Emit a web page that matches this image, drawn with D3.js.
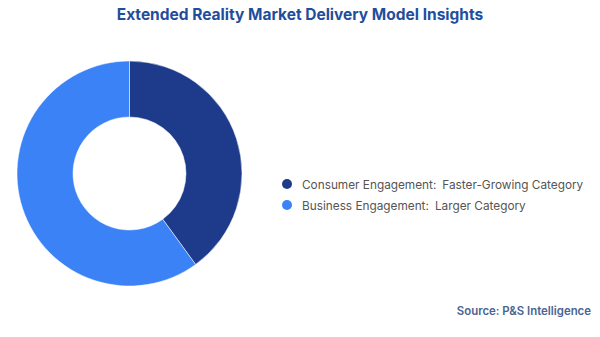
<!DOCTYPE html>
<html><head><meta charset="utf-8">
<script src="https://cdn.jsdelivr.net/npm/d3@7"></script>
<style>body{margin:0;background:#fff}svg{display:block}</style>
</head><body>
<svg id="c" width="600" height="337"></svg>
<script>
const categories = ["Consumer Engagement", "Business Engagement"];
const descriptors = ["Faster-Growing Category", "Larger Category"];
const values = [40, 60];
const colors = ["#1e3a8a", "#3b82f6"];

const svg = d3.select("#c");
svg.append("text").attr("x", 300).attr("y", 20).attr("text-anchor", "middle")
  .attr("font-family", "Inter, 'Open Sans', sans-serif").attr("font-weight", 700)
  .attr("font-size", 15.5).attr("fill", "#1f4e9c")
  .text("Extended Reality Market Delivery Model Insights");

const pie = d3.pie().sort(null).value(d => d)(values);
const arc = d3.arc().innerRadius(56.5).outerRadius(112.5);
const g = svg.append("g").attr("transform", "translate(129.5,173.5)");
g.selectAll("path").data(pie).join("path").attr("d", arc)
  .attr("fill", (d, i) => colors[i]).attr("stroke", "#fff").attr("stroke-width", 0.5);

const leg = svg.append("g");
categories.forEach((c, i) => {
  const y = 184 + i * 21;
  leg.append("circle").attr("cx", 287).attr("cy", y).attr("r", 5).attr("fill", colors[i]);
  const t = leg.append("text").attr("x", 302).attr("y", y + 4.5)
    .attr("font-family", "Inter, 'Open Sans', sans-serif").attr("font-size", 11.8).attr("fill", "#555");
  t.append("tspan").text(c + ":");
  t.append("tspan").attr("dx", 6).text(descriptors[i]);
});

svg.append("text").attr("x", 591).attr("y", 315).attr("text-anchor", "end")
  .attr("font-family", "Inter, 'Open Sans', sans-serif").attr("font-weight", 600)
  .attr("font-size", 11.4).attr("fill", "#4a6491").text("Source: P&S Intelligence");
</script>
</body></html>
